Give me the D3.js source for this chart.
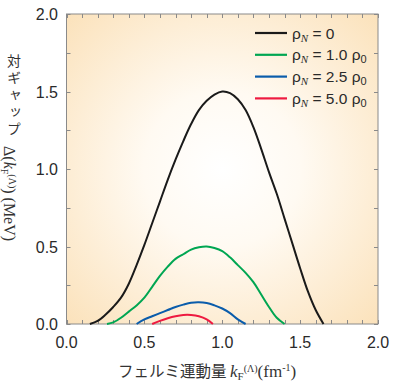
<!DOCTYPE html>
<html><head><meta charset="utf-8">
<script src="https://cdn.jsdelivr.net/npm/d3@7"></script>
<style>body{margin:0;background:#fff}svg{display:block}</style>
</head><body>
<svg id="c" width="400" height="389"></svg>
<script>
const seriesNames = ["ρN0","ρN1","ρN25","ρN5"];
const colors = ["#1a1a1a","#00a652","#0a5cab","#ee1a40"];
const black = [[0.15,0],[0.2,0.02],[0.25,0.06],[0.3,0.11],[0.35,0.17],[0.4,0.26],[0.45,0.38],[0.5,0.51],[0.55,0.65],[0.6,0.79],[0.65,0.93],[0.7,1.06],[0.75,1.18],[0.8,1.29],[0.85,1.38],[0.9,1.44],[0.95,1.48],[1.0,1.50],[1.05,1.49],[1.1,1.45],[1.15,1.38],[1.2,1.27],[1.25,1.13],[1.3,0.98],[1.35,0.84],[1.4,0.68],[1.45,0.52],[1.5,0.36],[1.55,0.21],[1.6,0.09],[1.65,0]];
const green = [[0.26,0],[0.3,0.01],[0.35,0.04],[0.4,0.08],[0.45,0.12],[0.5,0.17],[0.55,0.24],[0.6,0.31],[0.65,0.37],[0.7,0.42],[0.75,0.45],[0.8,0.48],[0.85,0.495],[0.9,0.5],[0.95,0.49],[1.0,0.47],[1.05,0.43],[1.1,0.38],[1.15,0.33],[1.2,0.27],[1.25,0.19],[1.3,0.11],[1.35,0.04],[1.4,0]];
const blue = [[0.45,0],[0.5,0.03],[0.55,0.05],[0.6,0.07],[0.65,0.09],[0.7,0.11],[0.75,0.125],[0.8,0.137],[0.85,0.14],[0.9,0.135],[0.95,0.12],[1.0,0.1],[1.05,0.07],[1.1,0.03],[1.15,0]];
const red = [[0.55,0],[0.6,0.02],[0.65,0.037],[0.7,0.05],[0.75,0.058],[0.8,0.058],[0.85,0.05],[0.9,0.03],[0.94,0]];
const seriesData = [black, green, blue, red];
const legendLabels = [["0",""],["1.0","0"],["2.5","0"],["5.0","0"]];
const xTickLabels = ["0.0","0.5","1.0","1.5","2.0"];
const yTickLabels = ["0.0","0.5","1.0","1.5","2.0"];

const svg = d3.select("#c");
const L=66.5, R=378, T=14, B=324;
const x = d3.scaleLinear().domain([0,2]).range([L,R]);
const y = d3.scaleLinear().domain([0,2]).range([B,T]);

const defs = svg.append("defs");
const rg = defs.append("radialGradient").attr("id","bg").attr("cx","0.5").attr("cy","0.5").attr("r","0.72");
rg.append("stop").attr("offset","0").attr("stop-color","#ffffff");
rg.append("stop").attr("offset","0.35").attr("stop-color","#fffaf2");
rg.append("stop").attr("offset","1").attr("stop-color","#fbe1b9");
svg.append("rect").attr("x",L).attr("y",T).attr("width",R-L).attr("height",B-T).attr("fill","url(#bg)");

// ticks
const tk = svg.append("g").attr("stroke","#8a8a8a").attr("stroke-width",1);
d3.range(0,2.0001,0.1).forEach(v=>{
  const px = Math.round(x(v))+0.5;
  tk.append("line").attr("x1",px).attr("x2",px).attr("y1",B).attr("y2",B-4);
  tk.append("line").attr("x1",px).attr("x2",px).attr("y1",T).attr("y2",T+4);
});
d3.range(0,2.0001,0.25).forEach(v=>{
  const py = Math.round(y(v))+0.5;
  tk.append("line").attr("x1",L).attr("x2",L+4).attr("y1",py).attr("y2",py);
  tk.append("line").attr("x1",R).attr("x2",R-4).attr("y1",py).attr("y2",py);
});
svg.append("rect").attr("x",L).attr("y",T).attr("width",R-L).attr("height",B-T).attr("fill","none").attr("stroke","#8a8a8a").attr("stroke-width",1);

// tick labels
xTickLabels.forEach((t,i)=>{
  svg.append("text").attr("x",x(i*0.5)).attr("y",348).attr("text-anchor","middle")
    .attr("font-family","Liberation Sans, Arial, sans-serif").attr("font-size",16).attr("fill","#2a2a2a").text(t);
});
yTickLabels.forEach((t,i)=>{
  svg.append("text").attr("x",58).attr("y",y(i*0.5)+6).attr("text-anchor","end")
    .attr("font-family","Liberation Sans, Arial, sans-serif").attr("font-size",16).attr("fill","#2a2a2a").text(t);
});

// curves
const line = d3.line().x(d=>x(d[0])).y(d=>y(d[1])).curve(d3.curveCatmullRom);
seriesData.forEach((s,i)=>{
  svg.append("path").attr("d",line(s)).attr("fill","none").attr("stroke",colors[i]).attr("stroke-width",2);
});

// legend
legendLabels.forEach((lb,i)=>{
  const ly = 33 + i*21.8;
  svg.append("line").attr("x1",255).attr("x2",287).attr("y1",ly).attr("y2",ly).attr("stroke",colors[i]).attr("stroke-width",2.2);
  const t = svg.append("text").attr("x",292).attr("y",ly+5.5).attr("font-family","Liberation Sans, Arial, sans-serif").attr("font-size",15.5).attr("fill","#2a2a2a");
  t.append("tspan").text("ρ");
  t.append("tspan").attr("font-family","Liberation Serif, serif").attr("font-style","italic").attr("font-size",11).attr("dy",3).text("N");
  t.append("tspan").attr("dy",-3).text(" = " + lb[0]);
  if(lb[1]){
    t.append("tspan").text(" ρ");
    t.append("tspan").attr("font-size",11).attr("dy",3).text(lb[1]);
  }
});

// y-axis title
svg.append("text").attr("x",14).attr("y",54)
  .style("writing-mode","vertical-rl").attr("letter-spacing",3)
  .attr("font-family","Noto Sans CJK JP, sans-serif").attr("font-size",14).attr("fill","#333").text("対ギャップ");
const yt = svg.append("text").attr("transform","translate(4,146) rotate(90)")
  .attr("font-family","Liberation Serif, serif").attr("font-size",16).attr("fill","#333");
yt.append("tspan").text("Δ(");
yt.append("tspan").attr("font-style","italic").text("k");
yt.append("tspan").attr("font-size",10).attr("dy",3).text("F");
yt.append("tspan").attr("font-size",10).attr("dy",-8).text("(Λ)");
yt.append("tspan").attr("dy",5).text(") (MeV)");

// x-axis title
const xt = svg.append("text").attr("x",118).attr("y",377).attr("fill","#333").attr("font-size",16);
xt.append("tspan").attr("font-family","Noto Sans CJK JP, sans-serif").attr("font-size",15.5).text("フェルミ運動量 ");
xt.append("tspan").attr("font-family","Liberation Serif, serif").attr("font-style","italic").attr("font-size",17).text("k");
xt.append("tspan").attr("font-family","Liberation Serif, serif").attr("font-size",11).attr("dy",3).text("F");
xt.append("tspan").attr("font-family","Liberation Serif, serif").attr("font-size",10).attr("dy",-8).text("(Λ)");
xt.append("tspan").attr("font-family","Liberation Serif, serif").attr("font-size",17).attr("dy",5).text("(fm");
xt.append("tspan").attr("font-family","Liberation Serif, serif").attr("font-size",10).attr("dy",-6).text("-1");
xt.append("tspan").attr("font-family","Liberation Serif, serif").attr("font-size",17).attr("dy",6).text(")");
</script>
</body></html>
